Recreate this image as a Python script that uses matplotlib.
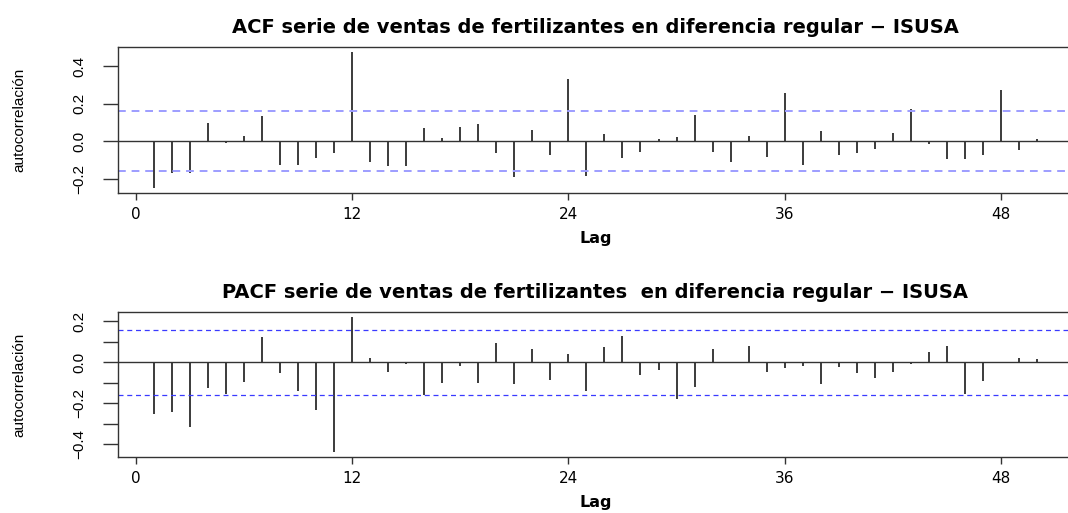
import numpy as np
import matplotlib
matplotlib.use("Agg")
import matplotlib.pyplot as plt

# lags 1..50 of the regular-differenced sales series
lags = list(range(1, 51))

acf_vals = [-0.250, -0.168, -0.168, 0.097, -0.012, 0.027, 0.132, -0.127, -0.130, -0.093,
            -0.066, 0.475, -0.111, -0.132, -0.134, 0.068, 0.018, 0.075, 0.091, -0.063,
            -0.193, 0.059, -0.075, 0.332, -0.186, 0.037, -0.091, -0.061, 0.011, 0.023,
            0.138, -0.057, -0.111, 0.027, -0.084, 0.257, -0.130, 0.054, -0.075, -0.064,
            -0.041, 0.045, 0.172, -0.014, -0.098, -0.098, -0.073, 0.273, -0.046, 0.009]

pacf_vals = [-0.252, -0.244, -0.315, -0.126, -0.156, -0.095, 0.121, -0.053, -0.140, -0.232,
             -0.437, 0.219, 0.019, -0.050, -0.011, -0.161, -0.103, -0.021, -0.102, 0.094,
             -0.108, 0.065, -0.089, 0.040, -0.139, 0.074, 0.129, -0.063, -0.039, -0.181,
             -0.123, 0.063, -0.004, 0.077, -0.050, -0.029, -0.021, -0.108, -0.026, -0.055,
             -0.076, -0.050, -0.010, 0.047, 0.079, -0.155, -0.094, 0.002, 0.019, 0.016]

clim = 0.158  # approx 2/sqrt(n)

titles = ["ACF serie de ventas de fertilizantes en diferencia regular \u2212 ISUSA",
          "PACF serie de ventas de fertilizantes  en diferencia regular \u2212 ISUSA"]

fig = plt.figure(figsize=(10.68, 5.13), dpi=100)

W, H = 1068.0, 513.0
left = 118.3 / W
width = 954.2 / W
ax1 = fig.add_axes([left, 1 - 193.3 / H, width, 146.6 / H])
ax2 = fig.add_axes([left, 1 - 457.3 / H, width, 145.6 / H])

narrow = ["Liberation Sans Narrow", "Liberation Sans", "DejaVu Sans"]


def r_ylim(vals):
    lo = min(min(vals), -clim)
    hi = max(max(vals), clim)
    pad = 0.04 * (hi - lo)
    return lo - pad, hi + pad


def draw_panel(ax, vals, title, band_color, band_lw, yticks, ylabels):
    ax.vlines(lags, 0, vals, color="#1a1a1a", lw=1.2)
    ax.axhline(0, color="#333333", lw=1.0)
    ax.axhline(clim, color=band_color, lw=band_lw, ls=(0, (4, 3)))
    ax.axhline(-clim, color=band_color, lw=band_lw, ls=(0, (4, 3)))
    ax.set_xlim(1 - 0.04 * 49, 50 + 0.04 * 49)
    ax.set_ylim(*r_ylim(vals))
    for s in ax.spines.values():
        s.set_color("#333333")
        s.set_linewidth(1.0)
    ax.set_xticks([0, 12, 24, 36, 48])
    ax.set_xticklabels(["0", "12", "24", "36", "48"], fontsize=11,
                       family="DejaVu Sans")
    ax.tick_params(axis="x", length=5, width=1, color="#333333", pad=5)
    ax.set_yticks(yticks)
    ax.set_yticklabels(ylabels, rotation=90, va="center", fontsize=11,
                       family=narrow)
    ax.tick_params(axis="y", length=11, width=1, color="#333333", pad=12)
    ax.set_title(title, fontsize=14, fontweight="bold", family="DejaVu Sans",
                 pad=10)
    ax.set_xlabel("Lag", fontsize=11.5, fontweight="bold", family="DejaVu Sans",
                  labelpad=6)
    ax.set_ylabel("autocorrelaci\u00f3n", fontsize=11, family=narrow)
    ax.yaxis.set_label_coords(-92 / 954.2, 0.5)


draw_panel(ax1, acf_vals, titles[0], "#9d9dff", 1.4,
           [-0.2, 0.0, 0.2, 0.4], ["\u22120.2", "0.0", "0.2", "0.4"])
draw_panel(ax2, pacf_vals, titles[1], "#3a3aff", 0.9,
           [-0.4, -0.3, -0.2, -0.1, 0.0, 0.1, 0.2],
           ["\u22120.4", "", "\u22120.2", "", "0.0", "", "0.2"])

fig.savefig("out.png", dpi=100)
